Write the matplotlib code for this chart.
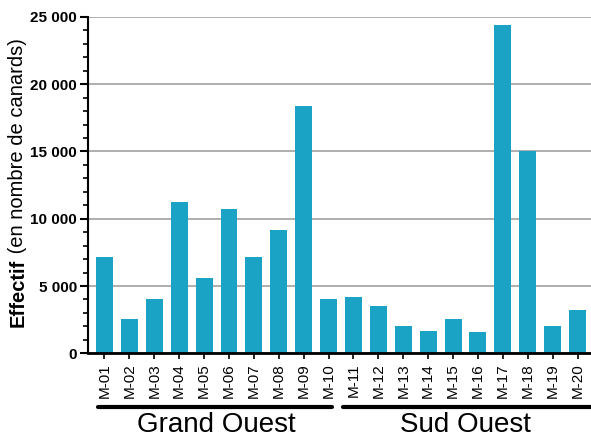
import numpy as np
import matplotlib.pyplot as plt
from matplotlib.ticker import MultipleLocator, FuncFormatter
import matplotlib.transforms as mtransforms

plt.rcParams['font.family'] = ['Liberation Sans', 'DejaVu Sans']

# data
sites = ['M-01', 'M-02', 'M-03', 'M-04', 'M-05', 'M-06', 'M-07', 'M-08', 'M-09', 'M-10',
         'M-11', 'M-12', 'M-13', 'M-14', 'M-15', 'M-16', 'M-17', 'M-18', 'M-19', 'M-20']
effectif = [7150, 2550, 4030, 11230, 5590, 10700, 7150, 9150, 18350, 4030,
            4180, 3510, 2030, 1650, 2550, 1580, 24430, 15000, 2030, 3210]
groups = ['Grand Ouest', 'Sud Ouest']
group_first = [0, 10]
group_last = [9, 19]

bar_color = '#1ba3c6'

fig = plt.figure(figsize=(5.91, 4.43), dpi=100)
ax = fig.add_axes([0.149, 0.2025, 0.851, 0.7595])

x = np.arange(len(sites))
ax.bar(x, effectif, width=0.68, color=bar_color, zorder=2)

ax.set_xlim(-0.66, 19.54)
ax.set_ylim(0, 25000)
ax.yaxis.set_major_locator(MultipleLocator(5000))
ax.yaxis.set_minor_locator(MultipleLocator(1000))
ax.yaxis.set_major_formatter(FuncFormatter(lambda v, p: f'{int(v):,}'.replace(',', ' ')))
ax.grid(axis='y', color='#999999', linewidth=1.1, zorder=0)

ax.set_xticks(x)
ax.set_xticklabels(sites, rotation=90, fontsize=11)
for lab in ax.get_yticklabels():
    lab.set_fontweight('bold')
ax.tick_params(axis='y', which='major', length=6, width=1.5, labelsize=11, pad=2)
ax.tick_params(axis='y', which='minor', length=3.5, width=1.2)
ax.tick_params(axis='x', length=4, width=1.2, pad=3)

for s in ['top', 'right']:
    ax.spines[s].set_visible(False)
ax.spines['left'].set_linewidth(1.5)
ax.spines['bottom'].set_linewidth(2)

# group brackets and names under the tick labels
trans = mtransforms.blended_transform_factory(ax.transData, fig.transFigure)
starts = [-0.26, 9.57]
ends = [9.14, 20.5]
for name, a, b, lo, hi in zip(groups, starts, ends, group_first, group_last):
    ax.plot([a, b], [0.081, 0.081], transform=trans, color='black', linewidth=3,
            solid_capstyle='round', clip_on=False)
    ax.text((lo + hi) / 2, 0.04, name, transform=trans, ha='center', va='center',
            fontsize=20)

# y label: bold word followed by regular text
fig.canvas.draw()
renderer = fig.canvas.get_renderer()
t1 = fig.text(18 / 591, 116 / 443, 'Effectif', rotation=90, ha='center', va='bottom',
              fontsize=14.5, fontweight='bold')
bb = t1.get_window_extent(renderer).transformed(fig.transFigure.inverted())
fig.text(18 / 591, bb.y1, ' (en nombre de canards)', rotation=90, ha='center', va='bottom',
         fontsize=14.5)

fig.savefig('out.png', dpi=100)
